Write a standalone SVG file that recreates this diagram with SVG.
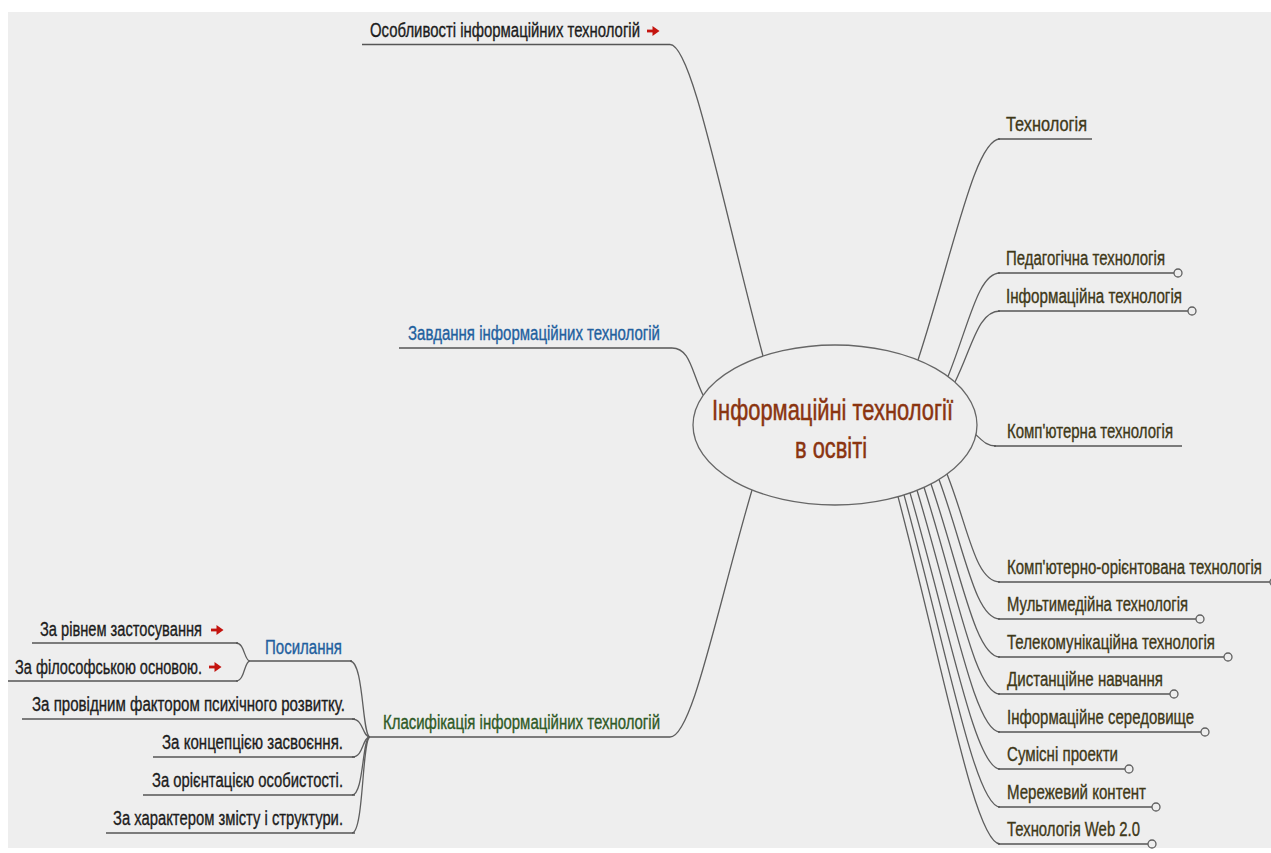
<svg xmlns="http://www.w3.org/2000/svg" xmlns:xlink="http://www.w3.org/1999/xlink" width="1271" height="853" viewBox="0 0 1271 853">
  <style>
    .t { font-family: "Liberation Sans Narrow", "Arial Narrow", "Liberation Sans", sans-serif; font-size: 19.5px; stroke-width: 0.35px; }
    .dark { fill: #1c1c1c; stroke: #1c1c1c; }
    .blue { fill: #22609e; stroke: #22609e; }
    .green { fill: #2f5a26; stroke: #2f5a26; }
    .olive { fill: #3e3818; stroke: #3e3818; }
    .root { font-family: "Liberation Sans Narrow", "Arial Narrow", "Liberation Sans", sans-serif; font-size: 29px; fill: #8a3410; stroke: #8a3410; stroke-width: 0.5px; }
    .ul { stroke: #555; stroke-width: 1.6; fill: none; }
    .link { stroke: #5e5e5e; stroke-width: 1.3; fill: none; }
    .knob { fill: #eeeeee; stroke: #606060; stroke-width: 1.3; }
  </style>
  <defs>
    <!-- small red "go to" arrow icon -->
    <g id="go">
      <path d="M0 0 H7" stroke="#c4140f" stroke-width="2.8" fill="none"/>
      <path d="M5.5 -5 L12.5 0 L5.5 5 Z" fill="#c4140f"/>
    </g>
  </defs>

  <!-- canvas -->
  <rect x="0" y="0" width="1271" height="853" fill="#ffffff"/>
  <rect x="8" y="12" width="1263" height="836" fill="#eeeeee"/>

  <!-- connectors -->
  <g id="connectors">
    <!-- left side -->
    <path class="link" d="M763 356 C721.5 200 692 44.5 670 44.5"/>
    <path class="link" d="M703 395 C691.5 371.5 690 348 672 348"/>
    <path class="link" d="M752 490 C716 613 692 737 670 737"/>
    <!-- classification children -->
    <path class="link" d="M370 737 C362 737 364 661 350 661"/>
    <path class="link" d="M370 737 C362 737 364 719 352 719"/>
    <path class="link" d="M370 737 C362 737 364 757 352 757"/>
    <path class="link" d="M370 737 C362 737 364 795 352 795"/>
    <path class="link" d="M370 737 C362 737 364 833 352 833"/>
    <!-- references children -->
    <path class="link" d="M250 661 C244 661 245 643 236 643"/>
    <path class="link" d="M250 661 C244 661 245 681 236 681"/>
    <!-- right upper -->
    <path class="link" d="M918 360 C954 249.5 975 139 1000 139"/>
    <path class="link" d="M948 376.5 C969 324.5 978 273 1000 273"/>
    <path class="link" d="M955 382 C972.5 346.5 978 311 1000 311"/>
    <path class="link" d="M974 433 C982 440 986 446 996 446"/>
    <!-- right lower -->
    <path class="link" d="M947 474 C968.5 528 975 582 1000 582"/>
    <path class="link" d="M939 479.5 C964.5 549 975 619 1000 619"/>
    <path class="link" d="M931 484 C960.5 570.5 975 657 1000 657"/>
    <path class="link" d="M924 487.3 C957 590.6 975 694 1000 694"/>
    <path class="link" d="M917 490.3 C953.5 611 975 732 1000 732"/>
    <path class="link" d="M910 492.9 C950 631 975 769 1000 769"/>
    <path class="link" d="M904 494.9 C947 651 975 807 1000 807"/>
    <path class="link" d="M898 496.7 C944 670.5 975 844 1000 844"/>
  </g>

  <!-- central topic -->
  <g id="root">
    <ellipse cx="835" cy="425" rx="142" ry="80" fill="#eeeeee" stroke="#666" stroke-width="1.3"/>
    <text class="root" x="712" y="420" textLength="241" lengthAdjust="spacingAndGlyphs">Інформаційні технології</text>
    <text class="root" x="795" y="458" textLength="72" lengthAdjust="spacingAndGlyphs">в освіті</text>
  </g>

  <!-- left topics -->
  <g id="features">
    <path class="ul" d="M362 44.5 H670"/>
    <text class="t dark" x="370" y="37" textLength="270" lengthAdjust="spacingAndGlyphs">Особливості інформаційних технологій</text>
    <use xlink:href="#go" x="647" y="31"/>
  </g>
  <g id="tasks">
    <path class="ul" d="M399 348 H672"/>
    <text class="t blue" x="408" y="340" textLength="252" lengthAdjust="spacingAndGlyphs">Завдання інформаційних технологій</text>
  </g>
  <g id="classification">
    <path class="ul" d="M370 737 H670"/>
    <text class="t green" x="383" y="729" textLength="277" lengthAdjust="spacingAndGlyphs">Класифікація інформаційних технологій</text>
  </g>
  <g id="references">
    <path class="ul" d="M250 661 H352"/>
    <text class="t blue" x="265" y="654" textLength="77" lengthAdjust="spacingAndGlyphs">Посилання</text>
  </g>
  <g id="by-level">
    <path class="ul" d="M32 643 H238"/>
    <text class="t dark" x="40" y="636" textLength="162" lengthAdjust="spacingAndGlyphs">За рівнем застосування</text>
    <use xlink:href="#go" x="211" y="630"/>
  </g>
  <g id="by-philosophy">
    <path class="ul" d="M8 681 H238"/>
    <text class="t dark" x="15" y="674" textLength="187" lengthAdjust="spacingAndGlyphs">За філософською основою.</text>
    <use xlink:href="#go" x="209" y="667"/>
  </g>
  <g id="by-factor">
    <path class="ul" d="M22 719 H355"/>
    <text class="t dark" x="32" y="711" textLength="313" lengthAdjust="spacingAndGlyphs">За провідним фактором психічного розвитку.</text>
  </g>
  <g id="by-concept">
    <path class="ul" d="M153 757 H355"/>
    <text class="t dark" x="162" y="749" textLength="181" lengthAdjust="spacingAndGlyphs">За концепцією засвоєння.</text>
  </g>
  <g id="by-personality">
    <path class="ul" d="M143 795 H355"/>
    <text class="t dark" x="152" y="787" textLength="191" lengthAdjust="spacingAndGlyphs">За орієнтацією особистості.</text>
  </g>
  <g id="by-content">
    <path class="ul" d="M106 833 H355"/>
    <text class="t dark" x="113" y="825" textLength="230" lengthAdjust="spacingAndGlyphs">За характером змісту і структури.</text>
  </g>

  <!-- right topics -->
  <g id="technology">
    <path class="ul" d="M998 139 H1092"/>
    <text class="t olive" x="1006" y="131" textLength="81" lengthAdjust="spacingAndGlyphs">Технологія</text>
  </g>
  <g id="pedagogical">
    <path class="ul" d="M998 273 H1174"/>
    <circle class="knob" cx="1178" cy="273" r="4"/>
    <text class="t olive" x="1006" y="265" textLength="159" lengthAdjust="spacingAndGlyphs">Педагогічна технологія</text>
  </g>
  <g id="information">
    <path class="ul" d="M998 311 H1188"/>
    <circle class="knob" cx="1192" cy="311" r="4"/>
    <text class="t olive" x="1006" y="303" textLength="176" lengthAdjust="spacingAndGlyphs">Інформаційна технологія</text>
  </g>
  <g id="computer">
    <path class="ul" d="M994 446 H1182"/>
    <text class="t olive" x="1007" y="438" textLength="166" lengthAdjust="spacingAndGlyphs">Комп'ютерна технологія</text>
  </g>
  <g id="computer-oriented">
    <path class="ul" d="M998 582 H1271"/>
    <circle class="knob" cx="1274" cy="582" r="4"/>
    <text class="t olive" x="1007" y="574" textLength="255" lengthAdjust="spacingAndGlyphs">Комп'ютерно-орієнтована технологія</text>
  </g>
  <g id="multimedia">
    <path class="ul" d="M998 619 H1196"/>
    <circle class="knob" cx="1200" cy="619" r="4"/>
    <text class="t olive" x="1007" y="611" textLength="181" lengthAdjust="spacingAndGlyphs">Мультимедійна технологія</text>
  </g>
  <g id="telecom">
    <path class="ul" d="M998 657 H1224"/>
    <circle class="knob" cx="1228" cy="657" r="4"/>
    <text class="t olive" x="1007" y="649" textLength="208" lengthAdjust="spacingAndGlyphs">Телекомунікаційна технологія</text>
  </g>
  <g id="distance">
    <path class="ul" d="M998 694 H1170"/>
    <circle class="knob" cx="1174" cy="694" r="4"/>
    <text class="t olive" x="1007" y="686" textLength="156" lengthAdjust="spacingAndGlyphs">Дистанційне навчання</text>
  </g>
  <g id="environment">
    <path class="ul" d="M998 732 H1201"/>
    <circle class="knob" cx="1205" cy="732" r="4"/>
    <text class="t olive" x="1007" y="724" textLength="187" lengthAdjust="spacingAndGlyphs">Інформаційне середовище</text>
  </g>
  <g id="joint-projects">
    <path class="ul" d="M998 769 H1125"/>
    <circle class="knob" cx="1129" cy="769" r="4"/>
    <text class="t olive" x="1007" y="761" textLength="111" lengthAdjust="spacingAndGlyphs">Сумісні проекти</text>
  </g>
  <g id="network-content">
    <path class="ul" d="M998 807 H1152"/>
    <circle class="knob" cx="1156" cy="807" r="4"/>
    <text class="t olive" x="1007" y="799" textLength="139" lengthAdjust="spacingAndGlyphs">Мережевий контент</text>
  </g>
  <g id="web20">
    <path class="ul" d="M998 844 H1148"/>
    <circle class="knob" cx="1152" cy="844" r="4"/>
    <text class="t olive" x="1007" y="836" textLength="133" lengthAdjust="spacingAndGlyphs">Технологія Web 2.0</text>
  </g>
</svg>
